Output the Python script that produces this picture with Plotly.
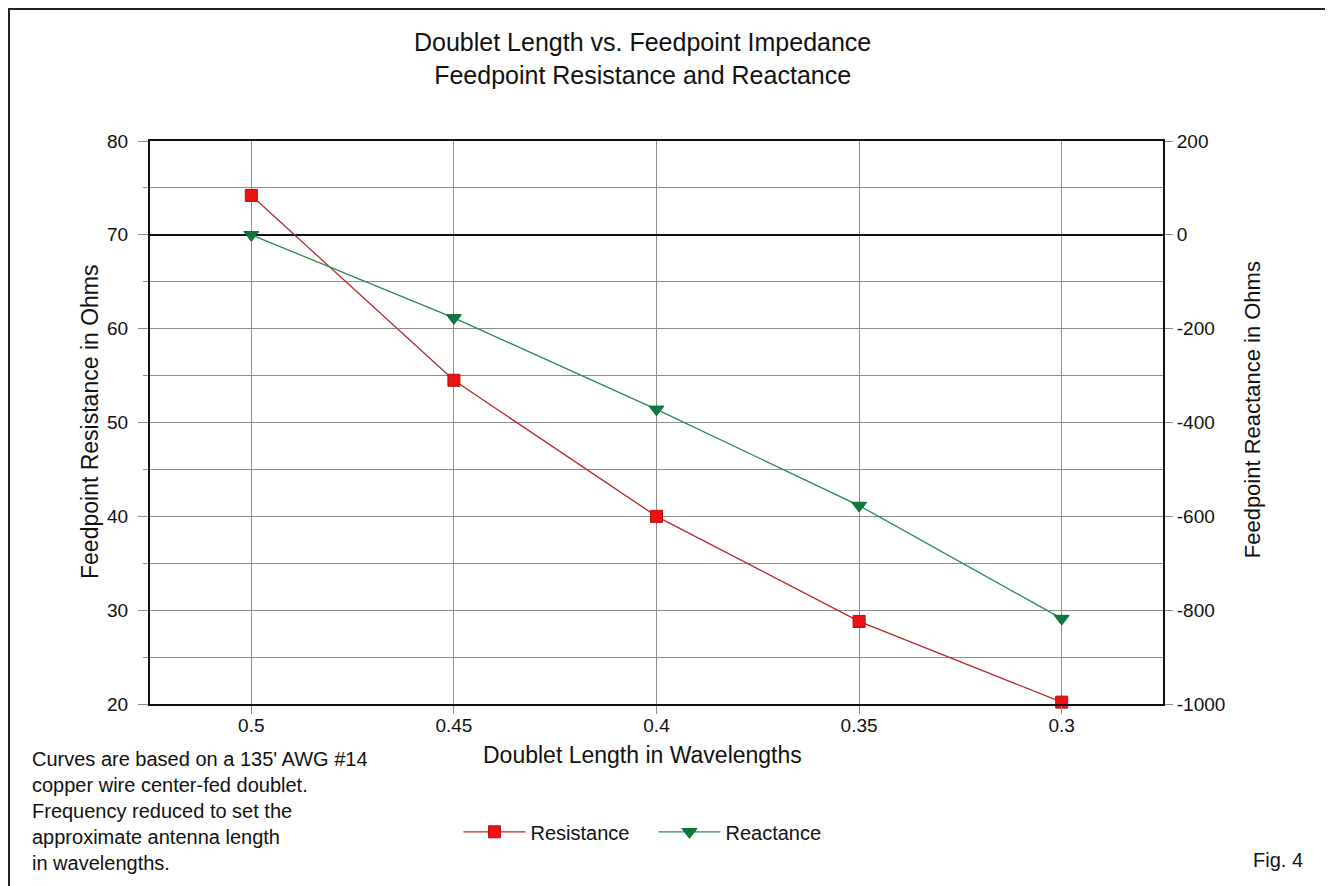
import plotly.graph_objects as go

lengths = ["0.5", "0.45", "0.4", "0.35", "0.3"]
resistance = [74.2, 54.5, 40.0, 28.8, 20.2]
reactance = [0, -177, -372, -577, -818]
react_ticks = [200, 0, -200, -400, -600, -800, -1000]
react_tick_text = ["200", "0", "-200", "-400", "-600", "-800", "-1000"]

FONT = "Liberation Sans, Arial, sans-serif"
GRID = "#8c8c8c"

fig = go.Figure()
fig.add_trace(go.Scatter(
    x=lengths, y=resistance, name="Resistance", mode="lines+markers",
    line=dict(color="#b52a2a", width=1.3),
    marker=dict(symbol="square", size=12, color="#ee1111", line=dict(color="#b01010", width=1)),
    yaxis="y", cliponaxis=False,
))
fig.add_trace(go.Scatter(
    x=lengths, y=reactance, name="Reactance", mode="lines+markers",
    line=dict(color="#2a8a50", width=1.3),
    marker=dict(symbol="triangle-down", size=13, color="#0b7a3b", line=dict(color="#0b6a33", width=1)),
    yaxis="y2", cliponaxis=False,
))

fig.update_layout(
    width=1325, height=878,
    margin=dict(l=142, r=170, t=133, b=182, autoexpand=False),
    paper_bgcolor="white", plot_bgcolor="white",
    font=dict(family=FONT, size=19, color="#111111"),
    showlegend=True,
    legend=dict(orientation="h", x=0.497, y=-0.227, xanchor="center", yanchor="middle",
                font=dict(size=20, family=FONT, color="#111111"), itemwidth=62,
                entrywidth=118, bgcolor="rgba(0,0,0,0)"),
    xaxis=dict(
        type="category", range=[-0.5, 4.5], showgrid=True, gridcolor=GRID, gridwidth=1,
        ticks="outside", ticklen=8, tickcolor=GRID, showline=True, linecolor="#111111",
        linewidth=2, mirror=True, tickfont=dict(size=19, family=FONT), zeroline=False,
        ticklabelstandoff=-5,
    ),
    yaxis=dict(
        range=[20, 80], dtick=10, tick0=20, showgrid=True, gridcolor=GRID, gridwidth=1,
        ticks="outside", ticklen=10, tickcolor=GRID, showline=True, linecolor="#111111",
        linewidth=2, zeroline=False, tickfont=dict(size=19, family=FONT),
        minor=dict(dtick=5, tick0=20, ticks="outside", ticklen=5, tickcolor=GRID,
                   showgrid=True, gridcolor=GRID, gridwidth=1),
        ticklabelstandoff=6,
    ),
    yaxis2=dict(
        range=[-1000, 200], tickmode="array", tickvals=react_ticks, ticktext=react_tick_text,
        overlaying="y", side="right", showgrid=False,
        ticks="outside", ticklen=8, tickcolor=GRID, showline=True, linecolor="#111111",
        linewidth=2, zeroline=True, zerolinecolor="#111111", zerolinewidth=1.6,
        tickfont=dict(size=19, family=FONT), ticklabelstandoff=0,
    ),
)

annots = [
    dict(text="Doublet Length vs. Feedpoint Impedance<br>Feedpoint Resistance and Reactance",
         x=0.4857, y=1.1474, xanchor="center", yanchor="middle", font=dict(size=25)),
    dict(text="Doublet Length in Wavelengths", x=0.4857, y=-0.0906,
         xanchor="center", yanchor="middle", font=dict(size=23)),
    dict(text="Feedpoint Resistance in Ohms", x=-0.0592, y=0.501, textangle=-90,
         xanchor="center", yanchor="middle", font=dict(size=23)),
    dict(text="Feedpoint Reactance in Ohms", x=1.088, y=0.522, textangle=-90,
         xanchor="center", yanchor="middle", font=dict(size=22)),
    dict(text="Curves are based on a 135' AWG #14<br>copper wire center-fed doublet.<br>"
              "Frequency reduced to set the<br>approximate antenna length<br>in wavelengths.",
         x=-0.1185, y=-0.0746, xanchor="left", yanchor="top", align="left", font=dict(size=20)),
    dict(text="Fig. 4", x=1.140, y=-0.277, xanchor="right", yanchor="middle", font=dict(size=20)),
]
for a in annots:
    a.setdefault("xref", "paper")
    a.setdefault("yref", "paper")
    a["showarrow"] = False
    a["font"] = dict(family=FONT, color="#111111", **a["font"])
    fig.add_annotation(**a)

fig.add_shape(type="rect", xref="paper", yref="paper",
              x0=-0.1392, x1=1.1639, y0=-0.40, y1=1.2345,
              line=dict(color="#222222", width=2), fillcolor="rgba(0,0,0,0)", layer="above")

fig.write_html("out.html")
